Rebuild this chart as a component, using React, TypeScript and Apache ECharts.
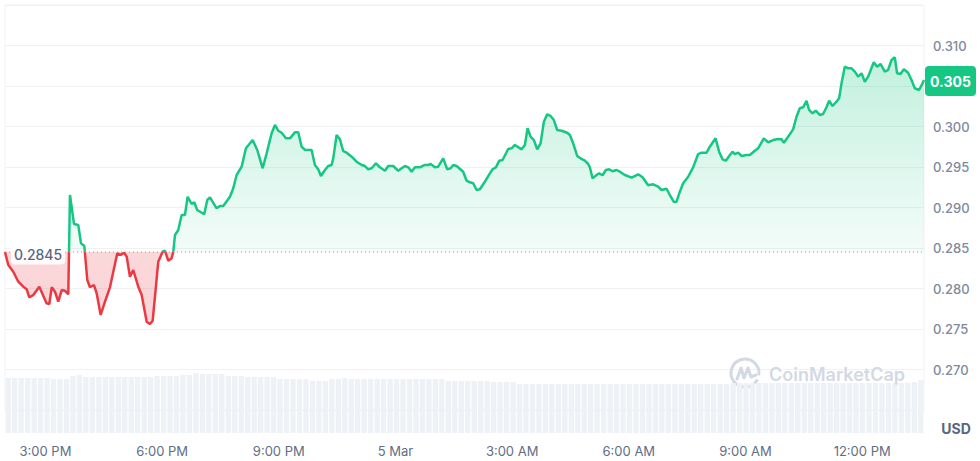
import { useEffect, useRef } from 'react';
import * as echarts from 'echarts';

const baselinePrice = 0.2845;
const lastPrice = 0.30574;
const lastPriceLabel = '0.305';
const baselineLabel = '0.2845';

const xTickHours = [15, 18, 21, 24, 27, 30, 33, 36];
const xTickLabels = ['3:00 PM', '6:00 PM', '9:00 PM', '5 Mar', '3:00 AM', '6:00 AM', '9:00 AM', '12:00 PM'];
const xMinHour = 13.96;
const xMaxHour = 37.59;

const yMin = 0.265;
const yMax = 0.315;
const yStep = 0.005;

const priceHours = [
  13.960, 14.045, 14.173, 14.302, 14.430, 14.518, 14.585, 14.688, 14.842, 15.028,
  15.099, 15.161, 15.245, 15.330, 15.418, 15.502, 15.587, 15.631, 15.734, 15.844,
  15.914, 15.999, 16.076, 16.145, 16.248, 16.317, 16.420, 16.531, 16.659, 16.847,
  16.934, 17.019, 17.089, 17.173, 17.258, 17.387, 17.474, 17.603, 17.688, 17.757,
  17.816, 17.901, 18.014, 18.073, 18.158, 18.245, 18.287, 18.330, 18.415, 18.502,
  18.587, 18.657, 18.760, 18.826, 18.903, 19.083, 19.161, 19.230, 19.402, 19.487,
  19.572, 19.744, 19.829, 19.916, 20.045, 20.155, 20.328, 20.446, 20.497, 20.585,
  20.688, 20.816, 20.901, 20.986, 21.073, 21.184, 21.286, 21.415, 21.500, 21.587,
  21.672, 21.844, 21.929, 22.014, 22.083, 22.186, 22.271, 22.358, 22.400, 22.487,
  22.572, 22.657, 22.744, 22.873, 23.001, 23.130, 23.215, 23.299, 23.387, 23.497,
  23.600, 23.729, 23.814, 23.942, 24.071, 24.243, 24.328, 24.415, 24.500, 24.628,
  24.757, 24.842, 24.903, 25.014, 25.099, 25.227, 25.330, 25.418, 25.485, 25.572,
  25.741, 25.829, 25.914, 25.999, 26.086, 26.171, 26.299, 26.428, 26.497, 26.582,
  26.667, 26.754, 26.898, 26.986, 27.071, 27.243, 27.328, 27.397, 27.474, 27.559,
  27.644, 27.731, 27.816, 27.901, 27.988, 28.073, 28.158, 28.271, 28.415, 28.484,
  28.569, 28.672, 28.759, 28.870, 28.955, 28.999, 29.068, 29.171, 29.238, 29.325,
  29.410, 29.495, 29.582, 29.685, 29.770, 29.898, 30.071, 30.240, 30.353, 30.497,
  30.626, 30.754, 30.842, 30.970, 31.055, 31.158, 31.227, 31.312, 31.397, 31.526,
  31.654, 31.783, 31.870, 31.999, 32.083, 32.230, 32.322, 32.410, 32.495, 32.580,
  32.667, 32.726, 32.811, 32.899, 33.027, 33.112, 33.240, 33.325, 33.471, 33.582,
  33.711, 33.839, 33.927, 33.986, 34.096, 34.225, 34.312, 34.397, 34.482, 34.569,
  34.636, 34.723, 34.808, 34.911, 34.996, 35.083, 35.150, 35.238, 35.340, 35.407,
  35.469, 35.554, 35.639, 35.726, 35.811, 35.896, 35.984, 36.068, 36.153, 36.299,
  36.384, 36.472, 36.582, 36.667, 36.755, 36.839, 36.898, 36.986, 37.071, 37.181,
  37.269, 37.353, 37.464, 37.552, 37.590
];

const priceValues = [
  0.28450, 0.28290, 0.28207, 0.28084, 0.28022, 0.27990, 0.27891, 0.27920, 0.28022, 0.27817,
  0.27809, 0.28015, 0.27960, 0.27837, 0.27981, 0.27973, 0.27928, 0.29154, 0.28796, 0.28784,
  0.28558, 0.28525, 0.28105, 0.28015, 0.28043, 0.27941, 0.27673, 0.27837, 0.28015, 0.28435,
  0.28414, 0.28442, 0.28393, 0.28146, 0.28228, 0.28022, 0.27920, 0.27590, 0.27562, 0.27602,
  0.27899, 0.28331, 0.28456, 0.28467, 0.28343, 0.28373, 0.28454, 0.28660, 0.28722, 0.28907,
  0.28907, 0.29133, 0.29043, 0.29064, 0.28969, 0.28916, 0.29093, 0.29126, 0.28990, 0.29019,
  0.29019, 0.29133, 0.29237, 0.29401, 0.29504, 0.29731, 0.29833, 0.29710, 0.29627, 0.29484,
  0.29669, 0.29916, 0.30019, 0.29948, 0.29923, 0.29854, 0.29854, 0.29928, 0.29928, 0.29751,
  0.29710, 0.29710, 0.29525, 0.29472, 0.29389, 0.29463, 0.29512, 0.29525, 0.29607, 0.29895,
  0.29842, 0.29697, 0.29677, 0.29627, 0.29565, 0.29525, 0.29512, 0.29472, 0.29484, 0.29546,
  0.29496, 0.29454, 0.29512, 0.29512, 0.29454, 0.29512, 0.29496, 0.29442, 0.29496, 0.29496,
  0.29525, 0.29525, 0.29537, 0.29496, 0.29504, 0.29607, 0.29472, 0.29484, 0.29525, 0.29512,
  0.29442, 0.29331, 0.29311, 0.29299, 0.29216, 0.29225, 0.29318, 0.29422, 0.29472, 0.29496,
  0.29578, 0.29586, 0.29722, 0.29731, 0.29772, 0.29718, 0.29772, 0.29978, 0.29874, 0.29833,
  0.29718, 0.29793, 0.30059, 0.30151, 0.30130, 0.30080, 0.29957, 0.29948, 0.29923, 0.29895,
  0.29793, 0.29636, 0.29607, 0.29578, 0.29537, 0.29496, 0.29360, 0.29401, 0.29422, 0.29398,
  0.29463, 0.29472, 0.29447, 0.29463, 0.29442, 0.29401, 0.29368, 0.29410, 0.29373, 0.29274,
  0.29286, 0.29257, 0.29216, 0.29232, 0.29154, 0.29068, 0.29072, 0.29195, 0.29299, 0.29380,
  0.29496, 0.29660, 0.29677, 0.29677, 0.29751, 0.29854, 0.29689, 0.29595, 0.29578, 0.29636,
  0.29689, 0.29660, 0.29677, 0.29636, 0.29648, 0.29648, 0.29701, 0.29731, 0.29854, 0.29805,
  0.29833, 0.29846, 0.29842, 0.29800, 0.29874, 0.29965, 0.30121, 0.30225, 0.30237, 0.30318,
  0.30204, 0.30163, 0.30195, 0.30142, 0.30154, 0.30237, 0.30318, 0.30253, 0.30306, 0.30348,
  0.30533, 0.30738, 0.30718, 0.30718, 0.30677, 0.30615, 0.30657, 0.30553, 0.30615, 0.30793,
  0.30738, 0.30772, 0.30677, 0.30698, 0.30821, 0.30854, 0.30657, 0.30648, 0.30706, 0.30664,
  0.30574, 0.30472, 0.30451, 0.30533, 0.30574
];

const volumeValues = [
  55, 55, 55, 55, 55, 55, 55, 54, 54, 54,
  57, 58, 56, 56, 56, 56, 56, 56, 56, 56,
  56, 56, 56, 57, 57, 57, 57, 58, 58, 60,
  59, 59, 59, 59, 57, 57, 57, 56, 56, 56,
  56, 56, 54, 54, 54, 54, 54, 52, 52, 52,
  54, 54, 55, 54, 54, 54, 54, 54, 54, 54,
  54, 54, 54, 54, 54, 54, 54, 54, 52, 52,
  52, 52, 52, 52, 52, 51, 51, 51, 51, 49,
  49, 49, 49, 49, 49, 49, 49, 49, 49, 49,
  49, 49, 49, 49, 49, 49, 49, 49, 49, 49,
  49, 49, 49, 49, 49, 49, 49, 49, 49, 49,
  49, 49, 50, 50, 50, 50, 50, 50, 50, 50,
  50, 50, 50, 50, 50, 50, 50, 50, 50, 50,
  50, 50, 50, 50, 50, 50, 50, 50, 50, 50,
  51, 53
];

const GREEN = '#16c784';
const RED = '#ea3943';
const FONT = 'Inter, "Noto Sans", sans-serif';

export default function App() {
  const ref = useRef<HTMLDivElement>(null);

  useEffect(() => {
    document.body.style.margin = '0';
    const chart = echarts.init(ref.current as HTMLDivElement, null, { renderer: 'svg' });

    const option: any = {
      animation: false,
      backgroundColor: '#ffffff',
      textStyle: { fontFamily: FONT },
      grid: [
        { left: 5, right: 56, top: 5, height: 405, show: true, borderColor: '#eff2f5', borderWidth: 1 },
        { left: 5, right: 56, top: 373, bottom: 28 }
      ],
      xAxis: [
        {
          type: 'value', gridIndex: 0, min: xMinHour, max: xMaxHour,
          axisLine: { show: false }, axisTick: { show: false }, splitLine: { show: false },
          axisLabel: {
            customValues: xTickHours,
            margin: 34,
            color: '#616e85',
            fontSize: 13,
            fontFamily: FONT,
            formatter: (v: number) => {
              const i = xTickHours.findIndex((h) => Math.abs(h - v) < 1e-6);
              return i >= 0 ? xTickLabels[i] : '';
            }
          }
        },
        {
          type: 'category', gridIndex: 1, data: volumeValues.map((_, i) => String(i)),
          show: false, boundaryGap: true
        }
      ],
      yAxis: [
        {
          type: 'value', gridIndex: 0, position: 'right', min: yMin, max: yMax, interval: yStep,
          axisLine: { show: false }, axisTick: { show: false },
          splitLine: { lineStyle: { color: '#eff2f5', width: 1 } },
          axisLabel: {
            margin: 9, color: '#808a9d', fontSize: 13, fontWeight: 500, fontFamily: FONT,
            formatter: (v: number) => {
              const s = v.toFixed(3);
              return s === '0.265' || s === '0.315' || s === lastPriceLabel ? '' : s;
            }
          }
        },
        { type: 'value', gridIndex: 1, min: 0, max: 60, show: false }
      ],
      series: [
        {
          type: 'bar', xAxisIndex: 1, yAxisIndex: 1, data: volumeValues,
          barWidth: '82%', silent: true,
          itemStyle: { color: '#eef1f5' }
        },
        {
          type: 'line', xAxisIndex: 0, yAxisIndex: 0,
          data: priceHours.map((h, i) => [h, priceValues[i]]),
          showSymbol: false, symbol: 'none',
          lineStyle: { width: 2.5, color: GREEN },
          areaStyle: { origin: baselinePrice, opacity: 1 },
          z: 3
        }
      ]
    };

    chart.setOption(option);

    const topPx = chart.convertToPixel({ yAxisIndex: 0 } as any, yMax) as number;
    const botPx = chart.convertToPixel({ yAxisIndex: 0 } as any, yMin) as number;
    const basePx = chart.convertToPixel({ yAxisIndex: 0 } as any, baselinePrice) as number;
    const lastPx = chart.convertToPixel({ yAxisIndex: 0 } as any, lastPrice) as number;
    const leftPx = chart.convertToPixel({ xAxisIndex: 0 } as any, xMinHour) as number;
    const rightPx = chart.convertToPixel({ xAxisIndex: 0 } as any, xMaxHour) as number;
    const t = (basePx - topPx) / (botPx - topPx);

    const lineGrad = new echarts.graphic.LinearGradient(0, topPx, 0, botPx, [
      { offset: 0, color: GREEN },
      { offset: t, color: GREEN },
      { offset: t, color: RED },
      { offset: 1, color: RED }
    ], true);
    const areaGrad = new echarts.graphic.LinearGradient(0, topPx, 0, botPx, [
      { offset: 0, color: 'rgba(22,199,132,0.32)' },
      { offset: t, color: 'rgba(22,199,132,0.05)' },
      { offset: t, color: 'rgba(234,57,67,0.2)' },
      { offset: 1, color: 'rgba(234,57,67,0.24)' }
    ], true);

    chart.setOption({
      series: [
        {},
        { lineStyle: { color: lineGrad }, areaStyle: { color: areaGrad } }
      ],
      graphic: [
        {
          type: 'line', z: 50, silent: true,
          shape: { x1: leftPx, y1: basePx, x2: rightPx, y2: basePx },
          style: { stroke: '#8f99ad', lineWidth: 1, lineDash: [1, 3] }
        },
        {
          type: 'text', x: 11, y: basePx + 2, z: 100,
          style: {
            text: baselineLabel, fill: '#58667e', fontSize: 14, fontWeight: 500, fontFamily: FONT,
            verticalAlign: 'middle', align: 'left',
            backgroundColor: 'rgba(255,255,255,0.9)', padding: [4, 3, 3, 3], borderRadius: 4
          }
        },
        {
          type: 'group', x: 925, y: lastPx + 1, z: 100,
          children: [
            { type: 'rect', shape: { x: 0, y: -15, width: 51, height: 30, r: 4 }, style: { fill: GREEN } },
            {
              type: 'text', x: 25.5, y: 0,
              style: {
                text: lastPriceLabel, fill: '#ffffff', fontSize: 14, fontWeight: 'bold', fontFamily: FONT,
                align: 'center', verticalAlign: 'middle'
              }
            }
          ]
        },
        {
          type: 'text', x: 956, y: 428, z: 100,
          style: {
            text: 'USD', fill: '#58667e', fontSize: 14, fontWeight: 'bold', fontFamily: FONT,
            align: 'center', verticalAlign: 'middle'
          }
        },
        {
          type: 'group', x: 745, y: 373, z: 90,
          children: [
            {
              type: 'arc', shape: { cx: 0, cy: 0, r: 14, startAngle: 0.15 * Math.PI, endAngle: 2.05 * Math.PI },
              style: { stroke: '#d3d9e4', lineWidth: 3, fill: 'none' }
            },
            {
              type: 'polyline',
              shape: { points: [[-8, 6], [-4, -5], [-1, 5], [3, -5], [6, 4], [11, 2]] },
              style: { stroke: '#d3d9e4', lineWidth: 3, fill: 'none', lineJoin: 'round', lineCap: 'round' }
            }
          ]
        },
        {
          type: 'text', x: 769, y: 374, z: 90,
          style: {
            text: 'CoinMarketCap', fill: '#d3d9e4', fontSize: 18, fontWeight: 600, fontFamily: FONT,
            align: 'left', verticalAlign: 'middle'
          }
        }
      ]
    });

    return () => chart.dispose();
  }, []);

  return <div ref={ref} style={{ width: 980, height: 461 }} />;
}
